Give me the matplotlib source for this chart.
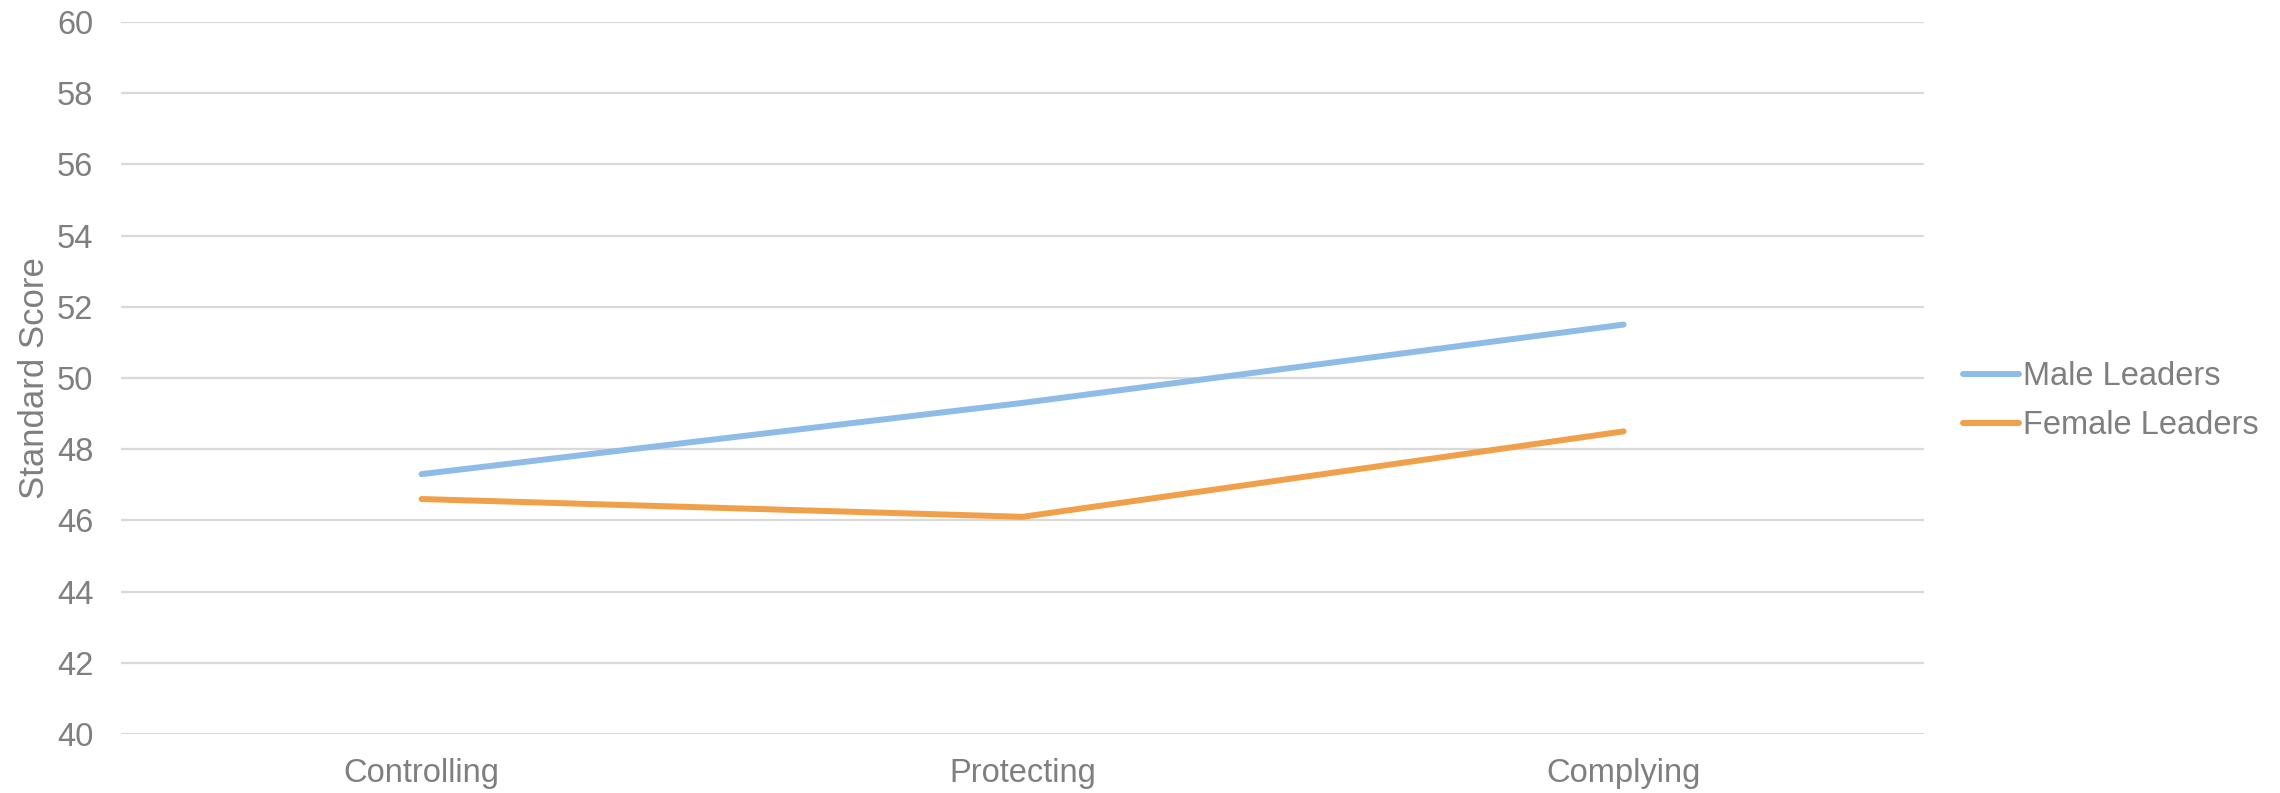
import matplotlib.pyplot as plt

# Standard scores by leadership style
categories = ['Controlling', 'Protecting', 'Complying']
male_scores = [47.3, 49.3, 51.5]
female_scores = [46.6, 46.1, 48.5]
y_ticks = list(range(40, 61, 2))

text_gray = '#7f7f7f'
grid_gray = '#d9d9d9'
blue = '#8fbce6'
orange = '#f0a04b'
fs = 23.5

plt.rcParams['font.family'] = ['Liberation Sans', 'DejaVu Sans']

fig = plt.figure(figsize=(22.8, 7.93), dpi=100)
ax = fig.add_axes([0.0531, 0.0744, 0.7908, 0.8979])

x = range(len(categories))
ax.plot(x, male_scores, color=blue, lw=4.3, solid_capstyle='round',
        solid_joinstyle='round', label='Male Leaders', zorder=3)
ax.plot(x, female_scores, color=orange, lw=4.3, solid_capstyle='round',
        solid_joinstyle='round', label='Female Leaders', zorder=3)

ax.set_xlim(-0.5, len(categories) - 0.5)
ax.set_ylim(40, 60)
ax.set_yticks(y_ticks)
ax.set_xticks(list(x))
ax.set_xticklabels(categories)

ax.yaxis.grid(True, color=grid_gray, lw=1.6)
ax.set_axisbelow(True)
for s in ax.spines.values():
    s.set_visible(False)

ax.tick_params(axis='y', length=0, pad=20, labelsize=fs, labelcolor=text_gray)
ax.tick_params(axis='x', length=0, pad=17, labelsize=fs, labelcolor=text_gray)

ax.set_ylabel('Standard Score', fontsize=25, color=text_gray)
ax.yaxis.set_label_coords(-0.039, 0.5)

fig.legend(loc='center left', bbox_to_anchor=(0.861, 0.494), frameon=False,
           fontsize=fs, handlelength=1.72, handletextpad=0.12,
           labelspacing=0.55, borderpad=0, borderaxespad=0,
           labelcolor=text_gray)

fig.savefig('out.png', dpi=100)
